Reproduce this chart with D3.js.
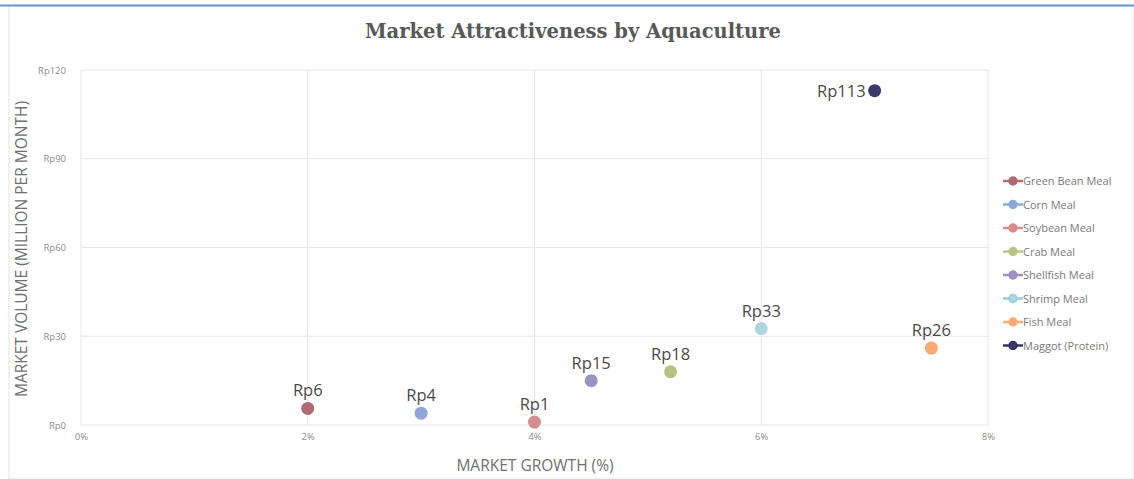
<!DOCTYPE html>
<html>
<head>
<meta charset="utf-8">
<script src="https://cdn.jsdelivr.net/npm/d3@7"></script>
<style>
  body { margin: 0; background: #fff; }
  svg { display: block; }
</style>
</head>
<body>
<div id="chart"></div>
<script>
// data
var names = ["Green Bean Meal", "Corn Meal", "Soybean Meal", "Crab Meal", "Shellfish Meal", "Shrimp Meal", "Fish Meal", "Maggot (Protein)"];
var growth = [2, 3, 4, 5.2, 4.5, 6, 7.5, 7];      // market growth %
var volume = [5.6, 4, 1, 18, 15, 32.6, 26, 113];  // Rp million per month
var labels = ["Rp6", "Rp4", "Rp1", "Rp18", "Rp15", "Rp33", "Rp26", "Rp113"];
var colors = ["#b06a75", "#8ea5d8", "#d58d8d", "#b5c47f", "#9894c4", "#aed6e0", "#f9a870", "#3d3a6b"];
var legendColors = ["#b86a72", "#82aedb", "#df8a8a", "#b2cc86", "#a08fc4", "#93cde0", "#f7b07a", "#34336a"];
var xTicks = [0, 2, 4, 6, 8];
var yTicks = [0, 30, 60, 90, 120];

var width = 1134, height = 479;
var svg = d3.select("#chart").append("svg")
    .attr("width", width)
    .attr("height", height);

// frame
svg.append("rect")
    .attr("x", 9).attr("y", 6)
    .attr("width", width - 9).attr("height", height - 6)
    .attr("fill", "#fff")
    .attr("stroke", "#e3e3e3");
svg.append("line")
    .attr("x1", 0).attr("x2", width)
    .attr("y1", 5.5).attr("y2", 5.5)
    .attr("stroke", "#6a93cc")
    .attr("stroke-width", 2);

var x = d3.scaleLinear().domain([0, 8]).range([81, 988]);
var y = d3.scaleLinear().domain([0, 120]).range([425, 70]);

// gridlines
svg.append("g").selectAll("line").data(xTicks).enter().append("line")
    .attr("x1", function (d) { return x(d); })
    .attr("x2", function (d) { return x(d); })
    .attr("y1", y(0)).attr("y2", y(120))
    .attr("stroke", "#e6e6e6");
svg.append("g").selectAll("line").data(yTicks).enter().append("line")
    .attr("x1", x(0)).attr("x2", x(8))
    .attr("y1", function (d) { return y(d); })
    .attr("y2", function (d) { return y(d); })
    .attr("stroke", "#e6e6e6");

// axes (labels only)
var xAxis = svg.append("g")
    .attr("transform", "translate(0," + (y(0) + 5) + ")")
    .call(d3.axisBottom(x).tickValues(xTicks).tickSize(0).tickFormat(function (d) { return d + "%"; }));
var yAxis = svg.append("g")
    .attr("transform", "translate(" + (x(0) - 12) + ",0)")
    .call(d3.axisLeft(y).tickValues(yTicks).tickSize(0).tickFormat(function (d) { return "Rp" + d; }));
[xAxis, yAxis].forEach(function (a) {
    a.select(".domain").remove();
    a.selectAll("text")
        .attr("fill", "#8c8c8c")
        .style("font-family", "'Open Sans', sans-serif")
        .style("font-size", "9.5px");
});

// title
svg.append("text")
    .attr("x", 573).attr("y", 38)
    .attr("text-anchor", "middle")
    .attr("fill", "#595959")
    .style("font-family", "'DejaVu Serif', serif")
    .style("font-weight", "bold")
    .style("font-stretch", "condensed")
    .style("font-size", "21px")
    .attr("textLength", 416)
    .attr("lengthAdjust", "spacingAndGlyphs")
    .text("Market Attractiveness by Aquaculture");

// axis titles
svg.append("text")
    .attr("x", 535).attr("y", 471)
    .attr("text-anchor", "middle")
    .attr("fill", "#707070")
    .style("font-family", "'Open Sans', sans-serif")
    .style("font-size", "15.5px")
    .text("MARKET GROWTH (%)");
svg.append("text")
    .attr("transform", "translate(27,249) rotate(-90)")
    .attr("text-anchor", "middle")
    .attr("fill", "#707070")
    .style("font-family", "'Open Sans', sans-serif")
    .style("font-size", "15.5px")
    .text("MARKET VOLUME (MILLION PER MONTH)");

// points
var idx = d3.range(names.length);
svg.append("g").selectAll("circle").data(idx).enter().append("circle")
    .attr("cx", function (i) { return x(growth[i]); })
    .attr("cy", function (i) { return y(volume[i]); })
    .attr("r", 6.5)
    .attr("fill", function (i) { return colors[i]; });

// data labels
svg.append("g").selectAll("text").data(idx).enter().append("text")
    .attr("x", function (i) { return i == 7 ? x(growth[i]) - 9 : x(growth[i]); })
    .attr("y", function (i) { return i == 7 ? y(volume[i]) + 6 : y(volume[i]) - 12; })
    .attr("text-anchor", function (i) { return i == 7 ? "end" : "middle"; })
    .attr("fill", "#4a4a4a")
    .style("font-family", "'Open Sans', sans-serif")
    .style("font-size", "16.5px")
    .text(function (i) { return labels[i]; });

// legend
var legend = svg.append("g").selectAll("g").data(idx).enter().append("g")
    .attr("transform", function (i) { return "translate(1003," + (181 + i * 23.5) + ")"; });
legend.append("line")
    .attr("x1", 0).attr("x2", 20)
    .attr("stroke", function (i) { return legendColors[i]; })
    .attr("stroke-width", 2.5);
legend.append("circle")
    .attr("cx", 10).attr("r", 4)
    .attr("fill", function (i) { return colors[i]; })
    .attr("stroke", function (i) { return legendColors[i]; })
    .attr("stroke-width", 1.5);
legend.append("text")
    .attr("x", 20).attr("y", 4)
    .attr("fill", "#7a7a7a")
    .style("font-family", "'Open Sans', sans-serif")
    .style("font-size", "11px")
    .text(function (i) { return names[i]; });
</script>
</body>
</html>
